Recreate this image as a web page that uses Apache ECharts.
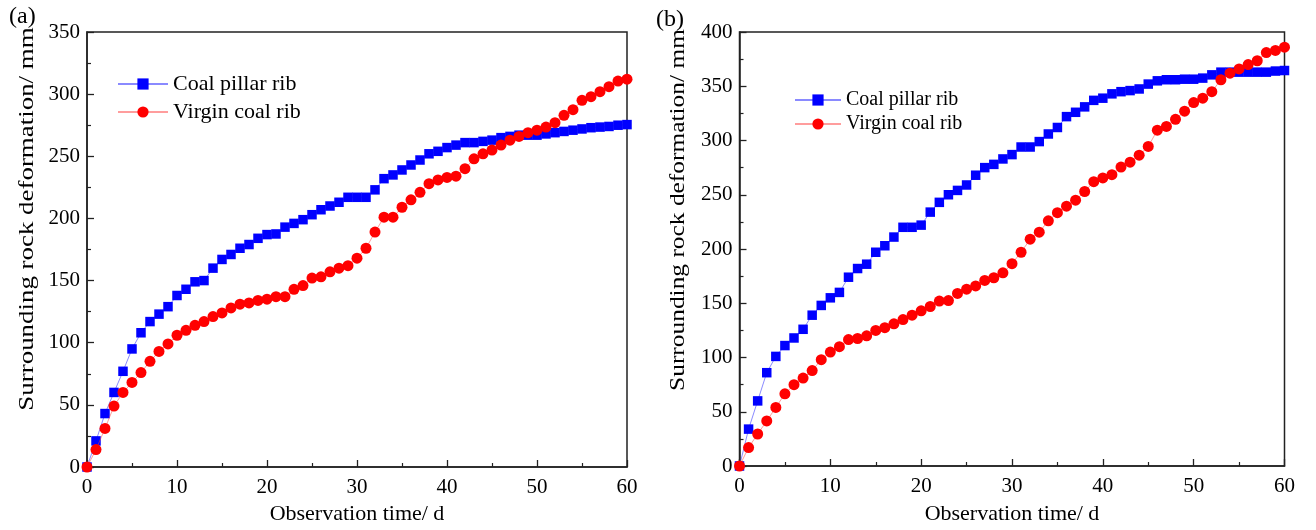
<!DOCTYPE html>
<html>
<head>
<meta charset="utf-8">
<script src="https://cdn.jsdelivr.net/npm/echarts@6/dist/echarts.min.js"></script>
<style>
html,body{margin:0;padding:0;background:#fff;}
#chart{width:1316px;height:530px;}
</style>
</head>
<body>
<div id="chart"></div>
<script>
const days = [0,1,2,3,4,5,6,7,8,9,10,11,12,13,14,15,16,17,18,19,20,21,22,23,24,25,26,27,28,29,30,31,32,33,34,35,36,37,38,39,40,41,42,43,44,45,46,47,48,49,50,51,52,53,54,55,56,57,58,59,60];

const seriesNames = ['Coal pillar rib', 'Virgin coal rib'];
const xTitle = 'Observation time/ d';
const yTitle = 'Surrounding rock deformation/ mm';
const panelLabels = ['(a)', '(b)'];

const pillarA = [0,21,43,60,77,95,108,117,123,129,138,143,149,150,160,167,171,176,179,184,187,187.5,193,196,199,203,207,210,213,217,217,217,223,232,235,239,243,247,252,254,257,259,261,261,262,263,265,266,267,267,267,268,269,270,271,272,273,273.5,274,275,275.5];
const virginA = [0,14,31,49,60,68,76,85,93,99,106,110,114,117,121,124,128,131,132,134,135,137,137,143,146,152,153,157,160,162,168,176,189,201,201,209,215,221,228,231,233,234,240,248,252,255,259,263,266,269,271,273.5,277,283,287.5,295,298,302,306,310.5,312];

const pillarB = [0,34,60,86,101,111,118,126,139,148,155,160,174,182,186,197,203,211,220,220,222,234,243,250,254,259,268,275,278,283,287,294,294,299,306,312,322,326,331,337,339,343,345,346,347.5,352,355,356,356,356.5,356.5,357.5,360.5,363,363,363,363,363,363,364,364.5];
const virginB = [0,17,29.5,41.5,54,66.5,75,81,88,98,105,110,116.5,117.5,120,125,127.5,131,135,139,143,147,152,152.5,159,163,166,171,173.5,178,186.5,197,209,215.5,226,233.5,239.5,245,253,262,265.5,268.5,275.5,280,286.5,294.5,309.5,313,319.5,327,335,339,345,356,362,366,370,373.5,381,383,386];

const yMaxA = 350, yMaxB = 400;

const pairs = (vals) => days.map((d, i) => [d, vals[i]]);

const FONT = '"Liberation Serif","Times New Roman",serif';
const AX = '#222';

function xAxis(gi, gap) {
  return {
    type: 'value', gridIndex: gi, min: 0, max: 60, interval: 10,
    axisLine: {show: true, onZero: false, lineStyle: {color: AX, width: 1.5}},
    axisTick: {show: true, inside: true, length: 7, lineStyle: {color: AX, width: 1.3}},
    minorTick: {show: true, splitNumber: 2, length: 4, lineStyle: {color: AX, width: 1.2}},
    splitLine: {show: false},
    axisLabel: {color: '#000', fontFamily: FONT, fontSize: 21, margin: 10},
    name: xTitle, nameLocation: 'middle', nameGap: gap,
    nameTextStyle: {color: '#000', fontFamily: FONT, fontSize: 22}
  };
}
function yAxis(gi, max) {
  return {
    type: 'value', gridIndex: gi, min: 0, max: max, interval: 50,
    axisLine: {show: true, onZero: false, lineStyle: {color: AX, width: 1.5}},
    axisTick: {show: true, inside: true, length: 7, lineStyle: {color: AX, width: 1.3}},
    minorTick: {show: true, splitNumber: 2, length: 4, lineStyle: {color: AX, width: 1.2}},
    splitLine: {show: false},
    axisLabel: {color: '#000', fontFamily: FONT, fontSize: 21, margin: 7}
  };
}
function ser(name, gi, vals, color, lineColor, symbol, size) {
  return {
    name: name, type: 'line', xAxisIndex: gi, yAxisIndex: gi,
    data: pairs(vals), symbol: symbol, symbolSize: size, showSymbol: true,
    itemStyle: {color: color, borderWidth: 0},
    lineStyle: {color: lineColor, width: 1},
    clip: false, z: name === seriesNames[1] ? 3 : 2
  };
}
function yTitleText(cx, cy, sx) {
  return {
    type: 'text', x: cx, y: cy, rotation: Math.PI / 2, scaleX: sx, scaleY: 1,
    style: {text: yTitle, fill: '#000', font: '20px ' + FONT, textAlign: 'center', textVerticalAlign: 'middle'}
  };
}

const chart = echarts.init(document.getElementById('chart'), null, {renderer: 'canvas'});
chart.setOption({
  animation: false,
  backgroundColor: '#fff',
  grid: [
    {left: 87, top: 32, width: 540, height: 435, show: true, borderColor: AX, borderWidth: 1.5, backgroundColor: 'transparent'},
    {left: 739.5, top: 32, width: 545, height: 439, show: true, borderColor: AX, borderWidth: 1.5, backgroundColor: 'transparent'}
  ],
  title: [
    {text: panelLabels[0], left: 4, top: 0, textStyle: {fontFamily: FONT, fontSize: 24, fontWeight: 'normal', color: '#000'}},
    {text: panelLabels[1], left: 651, top: 3, textStyle: {fontFamily: FONT, fontSize: 24, fontWeight: 'normal', color: '#000'}}
  ],
  graphic: [yTitleText(28, 219, 1.345), yTitleText(679, 210, 1.27)],
  legend: [
    {data: seriesNames, orient: 'vertical', left: 112, top: 68, itemWidth: 50, itemHeight: 14, itemGap: 6,
     textStyle: {fontFamily: FONT, fontSize: 22, color: '#000'}, selectedMode: false},
    {data: seriesNames, orient: 'vertical', left: 789, top: 85, itemWidth: 46, itemHeight: 14, itemGap: 4,
     textStyle: {fontFamily: FONT, fontSize: 20, color: '#000'}, selectedMode: false}
  ],
  xAxis: [xAxis(0, 34), xAxis(1, 37)],
  yAxis: [yAxis(0, yMaxA), yAxis(1, yMaxB)],
  series: [
    ser(seriesNames[0], 0, pillarA, '#0000ff', 'rgba(60,60,255,0.6)', 'rect', 9.5),
    ser(seriesNames[1], 0, virginA, '#ff0000', 'rgba(255,60,60,0.5)', 'circle', 11),
    ser(seriesNames[0], 1, pillarB, '#0000ff', 'rgba(60,60,255,0.6)', 'rect', 9.5),
    ser(seriesNames[1], 1, virginB, '#ff0000', 'rgba(255,60,60,0.5)', 'circle', 11)
  ]
});
</script>
</body>
</html>
